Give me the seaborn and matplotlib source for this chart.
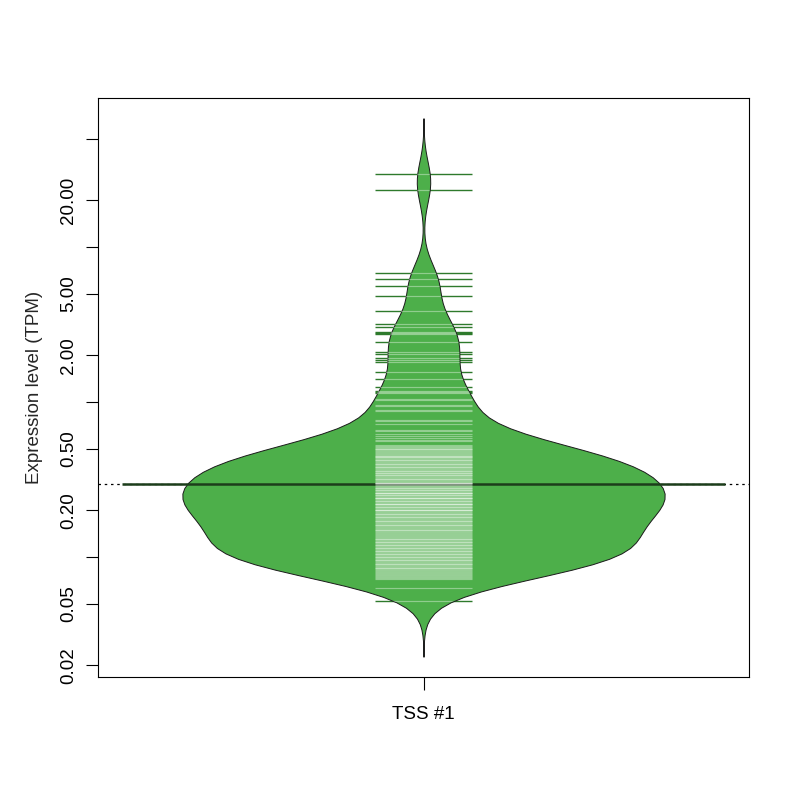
import numpy as np
import pandas as pd
import matplotlib
matplotlib.use("Agg")
import matplotlib.pyplot as plt
import seaborn as sns
from matplotlib.ticker import NullLocator

# ---- data (TPM values) ----
category = "TSS #1"
tpm = [29.58, 23.33, 6.80, 6.22, 5.60, 4.83, 3.86, 3.19, 3.05, 2.83, 2.79, 2.75,
       2.44, 2.10, 2.04, 1.92, 1.87, 1.81, 1.56, 1.41, 1.25, 1.18, 1.16, 1.14,
       1.046, 1.030, 0.956, 0.942, 0.888, 0.875, 0.765, 0.754, 0.721, 0.660,
       0.650, 0.622, 0.603, 0.586, 0.569, 0.560, 0.528, 0.520, 0.505, 0.490,
       0.483, 0.476, 0.455, 0.448, 0.435, 0.429, 0.422, 0.416, 0.404, 0.398,
       0.386, 0.381, 0.375, 0.370, 0.359, 0.353, 0.343, 0.338, 0.333, 0.323,
       0.319, 0.309, 0.305, 0.296, 0.291, 0.287, 0.283, 0.275, 0.271, 0.267,
       0.255, 0.251, 0.248, 0.237, 0.233, 0.226, 0.223, 0.220, 0.217, 0.213,
       0.207, 0.204, 0.198, 0.195, 0.192, 0.189, 0.181, 0.179, 0.176, 0.173,
       0.171, 0.163, 0.161, 0.158, 0.156, 0.154, 0.152, 0.149, 0.143, 0.141,
       0.139, 0.133, 0.131, 0.123, 0.121, 0.118, 0.116, 0.114, 0.111, 0.109,
       0.108, 0.106, 0.105, 0.103, 0.1015, 0.100, 0.0985, 0.097, 0.090, 0.0888,
       0.0875, 0.0862, 0.0813, 0.080, 0.0789, 0.0754, 0.0743, 0.0732, 0.0722,
       0.0631, 0.0520,
       0.513, 0.497, 0.469, 0.462, 0.442, 0.410, 0.392, 0.364, 0.348, 0.328,
       0.314, 0.300, 0.279, 0.263, 0.259, 0.244, 0.240, 0.230, 0.210, 0.201,
       0.187, 0.184, 0.168, 0.166, 0.147, 0.145, 0.137, 0.1345, 0.129, 0.127,
       0.125, 0.1195, 0.1127, 0.0957, 0.0942, 0.0929, 0.0915, 0.0849, 0.0837,
       0.0825, 0.0777, 0.0765,
       0.25, 0.24, 0.23, 0.22, 0.21, 0.20, 0.19, 0.18, 0.28, 0.27, 0.26, 0.30,
       0.32, 0.34, 0.36, 0.38, 0.40, 0.17, 0.16, 0.15, 0.12, 0.11, 0.10, 0.105,
       0.115, 0.125, 0.13, 0.095, 0.09, 0.085, 0.44, 0.42, 0.20, 0.22, 0.24,
       0.26, 0.30, 0.35, 0.45, 0.50]
mean_tpm = 0.296
ytick_vals = [0.02, 0.05, 0.1, 0.2, 0.5, 1, 2, 5, 10, 20, 50]
ytick_labels = ["0.02", "0.05", "", "0.20", "0.50", "", "2.00", "5.00", "", "20.00", ""]

df = pd.DataFrame({"group": [category] * len(tpm), "tpm": tpm})

sns.set_style("ticks")
plt.rcParams["font.family"] = ["Liberation Sans", "DejaVu Sans"]

fig = plt.figure(figsize=(8, 8), dpi=100)
ax = fig.add_axes([0.1225, 0.15375, 0.81375, 0.72375])

bean_col = "#4daf4a"
logv = np.log10(np.array(tpm))
bw = 0.12 / np.std(logv, ddof=1)

sns.violinplot(data=df, x="group", y="tpm", ax=ax, log_scale=True,
               color=bean_col, saturation=1, inner=None, cut=3,
               bw_method=bw, width=0.8, linecolor="#1a1a1a", linewidth=0.7,
               zorder=2)
poly = ax.collections[0]

# overall dotted line and bean average line
ax.axhline(mean_tpm, color="black", lw=0.9, ls=(0, (2, 3)), zorder=1)
ax.hlines(mean_tpm, -0.5, 0.5, color="#1c3d1b", lw=1.8, zorder=3)

# bean lines: dark outside the bean, light (clipped) inside
ax.hlines(tpm, -0.08, 0.08, color="#2e7a2c", lw=1.0, zorder=1.5)
inner = ax.hlines(tpm, -0.08, 0.08, color="white", alpha=0.38, lw=0.85, zorder=4)
inner.set_clip_path(poly.get_paths()[0], poly.get_transform())

ax.set_xlim(-0.54, 0.54)
ax.set_ylim(0.0168, 91.5)
ax.set_yticks(ytick_vals)
ax.set_yticklabels(ytick_labels, rotation=90, va="center")
ax.yaxis.set_minor_locator(NullLocator())
ax.set_xticks([0])
ax.set_xticklabels([category])
ax.tick_params(axis="both", direction="out", length=9, width=0.8,
               color="black", labelsize=13.5, labelcolor="black")
ax.tick_params(axis="y", pad=6)
ax.tick_params(axis="x", pad=12)
ax.set_xlabel("")
ax.set_ylabel("Expression level (TPM)", fontsize=13.5, labelpad=12)
for s in ax.spines.values():
    s.set_visible(True)
    s.set_color("black")
    s.set_linewidth(0.8)

fig.savefig("out.png", dpi=100, facecolor="white")
